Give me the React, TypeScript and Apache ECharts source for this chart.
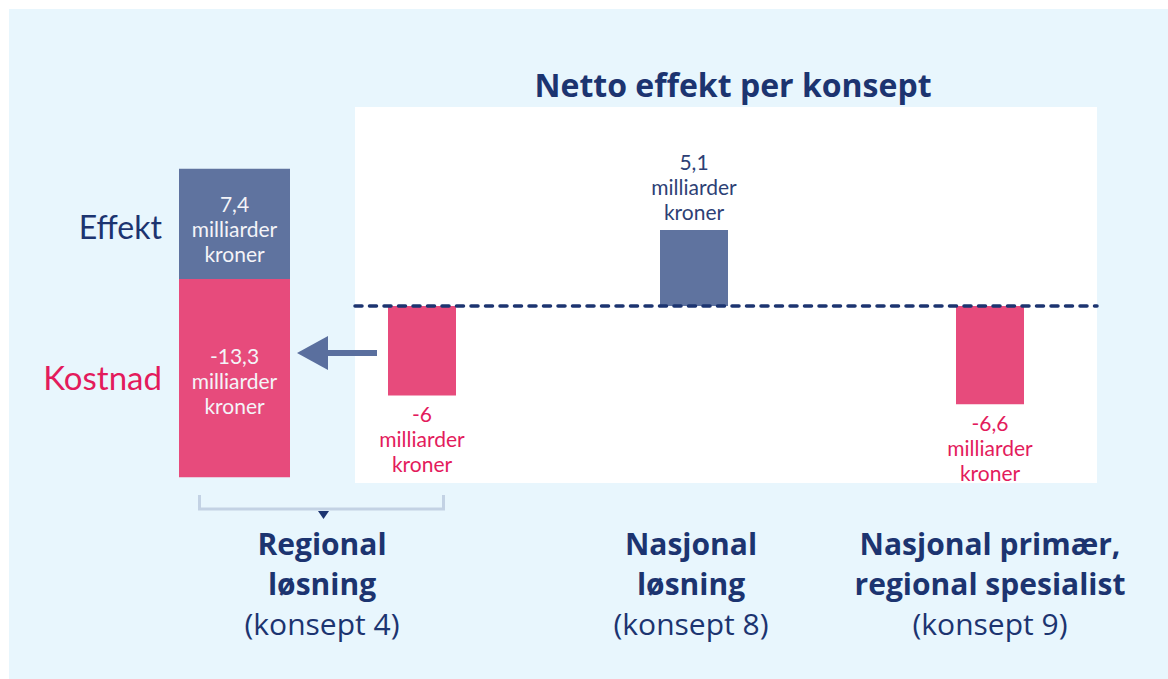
import React, { useEffect, useRef } from 'react';
import * as echarts from 'echarts';

// ---------- data ----------
const chartTitle = 'Netto effekt per konsept';
const conceptTitles = [
  ['Regional', 'løsning'],
  ['Nasjonal', 'løsning'],
  ['Nasjonal primær,', 'regional spesialist'],
];
const conceptNumbers = ['(konsept 4)', '(konsept 8)', '(konsept 9)'];
const breakdownNames = ['Effekt', 'Kostnad'];
const breakdownValues = [7.4, -13.3];
const netValues = [-6, 5.1, -6.6];
const unitText = ['milliarder', 'kroner'];

// ---------- layout / style ----------
const FONT = 'Lato, "Noto Sans", sans-serif';
const WIDE_FONT = '"Open Sans", "Noto Sans", sans-serif';
const NAVY = '#1c3470';
const PINK_TEXT = '#e31b5c';
const BLUE_BAR = '#5f739f';
const PINK_BAR = '#e74b7c';
const PX = 14.9; // pixels per unit
const ZERO_Y = 306;
const PANEL = { left: 355, top: 107, width: 742, height: 376 };
const RIGHT_MAX = (ZERO_Y - PANEL.top) / PX;
const RIGHT_MIN = -(PANEL.top + PANEL.height - ZERO_Y) / PX;
const BAR_CENTERS = [422, 694, 990];
const BAR_W = 68;
const LEFT_BAR = { left: 179, width: 111, zero: 279 };
const LABEL_CENTERS = [322, 691, 990];

const fmt = (v: number) => [String(v).replace('.', ','), ...unitText].join('\n');

export default function App() {
  const ref = useRef<HTMLDivElement>(null);

  useEffect(() => {
    if (!ref.current) return;
    const chart = echarts.init(ref.current, undefined, { renderer: 'svg' });

    const leftTop = LEFT_BAR.zero - breakdownValues[0] * PX;
    const leftHeight = (breakdownValues[0] - breakdownValues[1]) * PX;

    const grids: any[] = [
      { left: LEFT_BAR.left, width: LEFT_BAR.width, top: leftTop, height: leftHeight },
      {
        left: PANEL.left, width: PANEL.width, top: PANEL.top, height: PANEL.height,
        show: true, backgroundColor: '#ffffff', borderWidth: 0,
      },
      ...BAR_CENTERS.map((c) => ({
        left: c - BAR_W / 2, width: BAR_W, top: PANEL.top, height: PANEL.height,
      })),
    ];

    const xAxes: any[] = [
      { gridIndex: 0, type: 'category', data: [conceptTitles[0][0]], show: false },
      {
        gridIndex: 1, type: 'category', data: [''], z: 10,
        axisLine: {
          show: true, onZero: true,
          lineStyle: { color: NAVY, width: 3.5, type: [7, 7.5] },
        },
        axisTick: { show: false }, axisLabel: { show: false },
      },
      ...BAR_CENTERS.map((_, i) => ({
        gridIndex: i + 2, type: 'category', data: [conceptNumbers[i]], show: false,
      })),
    ];

    const yAxes: any[] = [
      { gridIndex: 0, type: 'value', min: breakdownValues[1], max: breakdownValues[0], show: false },
      { gridIndex: 1, type: 'value', min: RIGHT_MIN, max: RIGHT_MAX, show: false },
      ...BAR_CENTERS.map((_, i) => ({
        gridIndex: i + 2, type: 'value', min: RIGHT_MIN, max: RIGHT_MAX, show: false,
      })),
    ];

    const series: any[] = [
      ...breakdownNames.map((name, i) => ({
        name, type: 'bar', stack: 'breakdown', xAxisIndex: 0, yAxisIndex: 0,
        data: [breakdownValues[i]], barWidth: '100%',
        itemStyle: { color: i === 0 ? BLUE_BAR : PINK_BAR },
        label: {
          show: true, position: 'inside', offset: i === 0 ? [0, 5] : [0, 2],
          formatter: (p: any) => fmt(p.value),
          color: '#f4f4f8', fontSize: 21, lineHeight: 25, fontFamily: FONT,
        },
      })),
      ...netValues.map((v, i) => ({
        name: conceptNumbers[i], type: 'bar', xAxisIndex: i + 2, yAxisIndex: i + 2,
        data: [v], barWidth: '100%',
        itemStyle: { color: v >= 0 ? BLUE_BAR : PINK_BAR },
        label: {
          show: true, position: v >= 0 ? 'top' : 'bottom', distance: 6,
          formatter: (p: any) => fmt(p.value),
          color: v >= 0 ? '#2d3f75' : PINK_TEXT,
          fontSize: 21, lineHeight: 25, fontFamily: FONT,
        },
      })),
    ];

    const graphics: any[] = [
      // series names
      ...breakdownNames.map((name, i) => ({
        type: 'text', x: 162, y: i === 0 ? 226 : 377,
        style: {
          text: name, align: 'right', verticalAlign: 'middle',
          fontSize: i === 0 ? 32 : 33, fontFamily: FONT, fill: i === 0 ? NAVY : PINK_TEXT,
        },
      })),
      // arrow
      { type: 'line', shape: { x1: 326, y1: 353, x2: 377, y2: 353 }, style: { stroke: '#5a6f9e', lineWidth: 6 } },
      { type: 'polygon', shape: { points: [[297, 353], [328, 336], [328, 370]] }, style: { fill: '#5a6f9e' } },
      // bracket
      {
        type: 'polyline',
        shape: { points: [[199.5, 495], [199.5, 509], [443.5, 509], [443.5, 495]] },
        style: { stroke: '#c3d2e4', lineWidth: 3, fill: null },
      },
      { type: 'polygon', shape: { points: [[318, 511], [329, 511], [323.5, 519]] }, style: { fill: NAVY } },
      // concept labels
      ...conceptTitles.map((lines, i) => ({
        type: 'text', x: LABEL_CENTERS[i], y: 523,
        style: {
          text: `{b|${lines[0]}}\n{b|${lines[1]}}\n{n|${conceptNumbers[i]}}`,
          align: 'center', verticalAlign: 'top',
          rich: {
            b: { fontSize: 30, fontWeight: 'bold', fontFamily: WIDE_FONT, fill: NAVY, lineHeight: 40, align: 'center' },
            n: { fontSize: 30, fontFamily: WIDE_FONT, fill: NAVY, lineHeight: 40, align: 'center' },
          },
        },
      })),
    ];

    chart.setOption({
      animation: false,
      backgroundColor: 'transparent',
      title: {
        text: chartTitle, left: 728, top: 63, textAlign: 'center',
        textStyle: { fontSize: 32, fontWeight: 'bold', color: NAVY, fontFamily: WIDE_FONT },
      },
      grid: grids,
      xAxis: xAxes,
      yAxis: yAxes,
      series,
      graphic: graphics,
    });

    return () => chart.dispose();
  }, []);

  return (
    <div
      ref={ref}
      style={{
        position: 'fixed', left: 0, top: 0, width: 1168, height: 679,
        background: '#e8f6fd', boxShadow: 'inset 9px 9px 0 0 #ffffff',
      }}
    />
  );
}
